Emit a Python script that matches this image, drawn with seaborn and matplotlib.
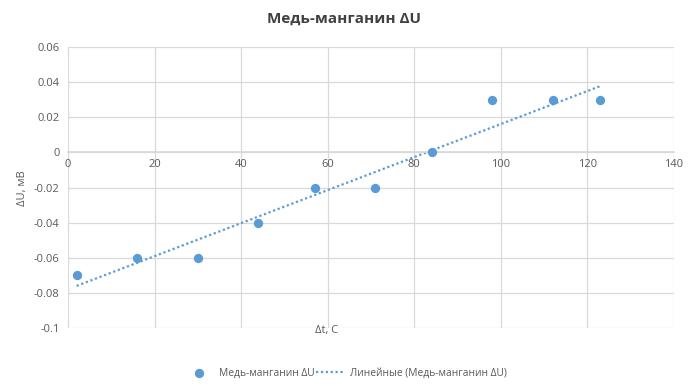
import numpy as np
import pandas as pd
import matplotlib
matplotlib.use("Agg")
import matplotlib.pyplot as plt
import seaborn as sns

x_vals = [2, 16, 30, 44, 57, 71, 84, 98, 112, 123]
y_vals = [-0.07, -0.06, -0.06, -0.04, -0.02, -0.02, 0.0, 0.03, 0.03, 0.03]
title = "Медь-манганин ΔU"
series_name = "Медь-манганин ΔU"
trend_name = "Линейные (Медь-манганин ΔU)"
x_label = "Δt, C"
y_label = "ΔU, мВ"
x_ticks = [0, 20, 40, 60, 80, 100, 120, 140]
y_ticks = [0.06, 0.04, 0.02, 0, -0.02, -0.04, -0.06, -0.08, -0.1]

sns.set_theme(style="white")
plt.rcParams['font.family'] = ['Open Sans', 'DejaVu Sans']

blue = "#5b9bd5"
gray_text = "#595959"
title_c = "#404040"
grid_c = "#d9d9d9"

df = pd.DataFrame({"x": x_vals, "y": y_vals})

fig = plt.figure(figsize=(6.89, 3.86), dpi=100)
ax = fig.add_axes([68/689, (386-328)/386, (674-68)/689, (328-47)/386])

# trend line
coef = np.polyfit(df["x"], df["y"], 1)
xt = np.array([df["x"].min(), df["x"].max()])
yt = np.polyval(coef, xt)
ax.plot(xt, yt, linestyle=(0, (1, 1.2)), color=blue, lw=1.6, label=trend_name, zorder=2)

sns.scatterplot(data=df, x="x", y="y", ax=ax, color=blue, s=45, edgecolor=blue,
                linewidth=0, label=series_name, zorder=3)

ax.set_xlim(0, 140)
ax.set_ylim(-0.1, 0.06)
ax.set_xticks(x_ticks)
ax.set_yticks(y_ticks)
ax.set_yticklabels([("%g" % v) for v in y_ticks])
ax.grid(True, color=grid_c, lw=0.9)
ax.set_axisbelow(True)
for s in ax.spines.values():
    s.set_visible(False)
ax.spines['bottom'].set_visible(True)
ax.spines['bottom'].set_position(('data', 0))
ax.spines['bottom'].set_color(grid_c)
ax.tick_params(axis='both', length=0, labelsize=8, labelcolor=gray_text)
ax.tick_params(axis='x', pad=5)
ax.tick_params(axis='y', pad=6)
ax.set_xlabel("")
ax.set_ylabel("")

fig.text(327/689, 1 - 331/386, x_label, ha='center', va='center', fontsize=8, color=gray_text)
fig.text(23/689, 1 - 188/386, y_label, ha='center', va='center', rotation=90, fontsize=8, color=gray_text)
fig.text(344/689, 1 - 19/386, title, ha='center', va='center', fontsize=11, fontweight='bold', color=title_c)

ax.get_legend().remove()
h, l = ax.get_legend_handles_labels()
order = [l.index(series_name), l.index(trend_name)]
leg = fig.legend([h[i] for i in order], [l[i] for i in order], loc='center',
                 bbox_to_anchor=(346/689, 1 - 373/386), ncol=2, frameon=False,
                 fontsize=7.4, handlelength=2.8, handletextpad=0.5, columnspacing=0.2)
for t in leg.get_texts():
    t.set_color(gray_text)

fig.savefig("out.png", dpi=100)
